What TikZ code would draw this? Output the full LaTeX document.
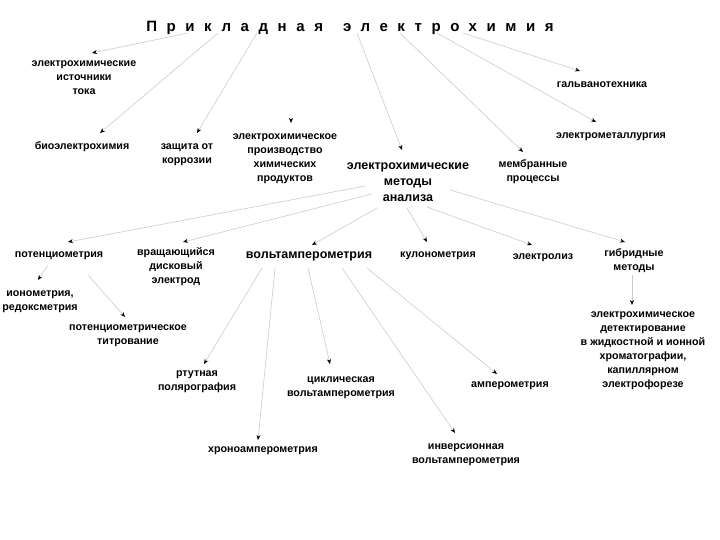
\documentclass[tikz,border=0pt]{standalone}
\usepackage{fontspec}
\setmainfont{Liberation Sans}
\usetikzlibrary{arrows.meta,calc}
\tikzset{
  lbl/.style={font=\bfseries\fontsize{10.7}{14}\selectfont, align=center, inner sep=1pt},
  big/.style={font=\bfseries\fontsize{12.5}{16}\selectfont, align=center, inner sep=1pt},
  conn/.style={draw=gray!40, line width=0.6pt, -{Stealth[black,length=5pt,width=4pt]}},
}
\begin{document}
\begin{tikzpicture}[x=1pt,y=-1pt]
\useasboundingbox[fill=white] (0,0) rectangle (720,540);
\node (t) at (350,28) {\bfseries\fontsize{15}{18}\selectfont\addfontfeature{LetterSpace=64}Прикладная\hspace{20pt}электрохимия};

\node[lbl] (n1) at (84,78) {электрохимические\\источники\\тока};
\node[lbl] (n2) at (82,147) {биоэлектрохимия};
\node[lbl] (n3) at (187,155) {защита от\\коррозии};
\node[lbl] (n4) at (285,159) {электрохимическое\\производство\\химических\\продуктов};
\node[big] (m) at (408,182) {электрохимические\\методы\\анализа};
\node[lbl] (n5) at (533,172) {мембранные\\процессы};
\node[lbl] (n6) at (602,85) {гальванотехника};
\node[lbl] (n7) at (611,137) {электрометаллургия};

\node[lbl] (p) at (59,256) {потенциометрия};
\node[lbl] (r) at (176,267) {вращающийся\\дисковый\\электрод};
\node[big] (v) at (309,256) {вольтамперометрия};
\node[lbl] (k) at (438,256) {кулонометрия};
\node[lbl] (e) at (543,258) {электролиз};
\node[lbl] (g) at (634,261) {гибридные\\методы};
\node[lbl] (d) at (643,351) {электрохимическое\\детектирование\\в жидкостной и ионной\\хроматографии,\\капиллярном\\электрофорезе};

\node[lbl] (i) at (40,302) {ионометрия,\\редоксметрия};
\node[lbl] (tt) at (128,336) {потенциометрическое\\титрование};

\node[lbl] (rt) at (197,382) {ртутная\\полярография};
\node[lbl] (hr) at (263,451) {хроноамперометрия};
\node[lbl] (ci) at (341,388) {циклическая\\вольтамперометрия};
\node[lbl] (in) at (466,455) {инверсионная\\вольтамперометрия};
\node[lbl] (am) at (510,386) {амперометрия};

% from title
\draw[conn] ($(t)+(-162,5)$) -- ($(n1)+(8,-25)$);
\draw[conn] ($(t)+(-132,5)$) -- ($(n2)+(18,-14)$);
\draw[conn] ($(t)+(-93,5)$) -- ($(n3)+(10,-22)$);
\draw[conn] ($(n4)+(6,-41)$) -- ($(n4)+(6,-36)$);
\draw[conn] ($(t)+(7,5)$) -- ($(m)+(-6,-32)$);
\draw[conn] ($(t)+(50,5)$) -- ($(n5)+(-10,-20)$);
\draw[conn] ($(t)+(113,5)$) -- ($(n6)+(-22,-14)$);
\draw[conn] ($(t)+(87,5)$) -- ($(n7)+(-15,-15)$);

% from methods
\draw[conn] ($(m)+(-43,4)$) -- ($(p)+(9,-14)$);
\draw[conn] ($(m)+(-36,12)$) -- ($(r)+(7,-25)$);
\draw[conn] ($(m)+(-31,26)$) -- ($(v)+(3,-11)$);
\draw[conn] ($(m)+(-1,26)$) -- ($(k)+(-11,-14)$);
\draw[conn] ($(m)+(19,25)$) -- ($(e)+(-11,-13)$);
\draw[conn] ($(m)+(42,8)$) -- ($(g)+(-9,-19)$);
\draw[conn] ($(g)+(-2,14)$) -- ($(d)+(-11,-46)$);

% from potentiometry
\draw[conn] ($(p)+(-11,9)$) -- ($(i)+(-2,-22)$);
\draw[conn] ($(p)+(29,19)$) -- ($(tt)+(-3,-19)$);

% from voltammetry
\draw[conn] ($(v)+(-47,12)$) -- ($(rt)+(7,-18)$);
\draw[conn] ($(v)+(-34,12)$) -- ($(hr)+(-5,-11)$);
\draw[conn] ($(v)+(-1,12)$) -- ($(ci)+(-11,-24)$);
\draw[conn] ($(v)+(33,12)$) -- ($(in)+(-11,-22)$);
\draw[conn] ($(v)+(58,12)$) -- ($(am)+(-13,-12)$);
\end{tikzpicture}
\end{document}
